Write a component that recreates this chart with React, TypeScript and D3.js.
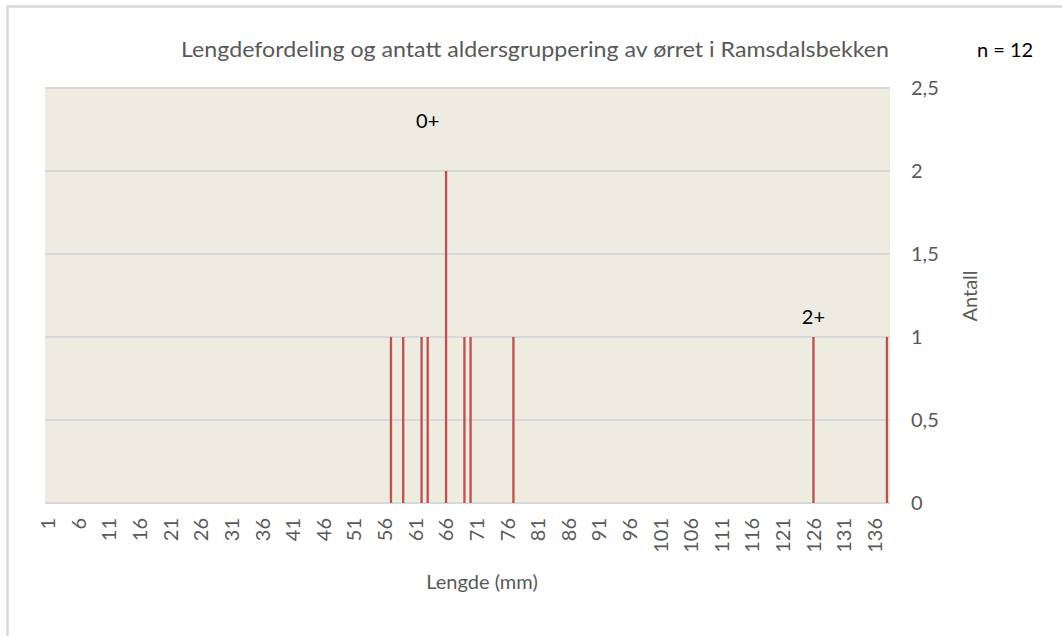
import React from "react";
import * as d3 from "d3";

// Categories: length in mm, 1..138
const lengths: number[] = d3.range(1, 139);
// Observed counts per length (mm -> count)
const fishLengths: number[] = [57, 59, 62, 63, 66, 69, 70, 77, 126, 138];
const fishCounts: number[] = [1, 1, 1, 1, 2, 1, 1, 1, 1, 1];
const yTicks: number[] = [0, 0.5, 1, 1.5, 2, 2.5];
const xTickLabels: number[] = d3.range(1, 139, 5);
const ageLabels = [
  { text: "0+", at: 63, y: 2.3 },
  { text: "2+", at: 126, y: 1.12 },
];

const W = 1062;
const H = 636;
const plot = { left: 45, right: 890, top: 88, bottom: 503 };
const FONT = "Lato, 'Open Sans', sans-serif";

export default function App() {
  const x = d3
    .scaleBand<number>()
    .domain(lengths)
    .range([plot.left, plot.right])
    .paddingInner(0.62)
    .paddingOuter(0.31);
  const xc = (v: number) => (x(v) as number) + x.bandwidth() / 2;
  const y = d3.scaleLinear().domain([0, 2.5]).range([plot.bottom, plot.top]);
  const fmt = (v: number) => String(v).replace(".", ",");

  return (
    <svg
      width={W}
      height={H}
      style={{ position: "absolute", left: 0, top: 0, background: "#fff" }}
      fontFamily={FONT}
    >
      <rect x={7.5} y={6.5} width={W + 20} height={H + 20} fill="#fff" stroke="#d9d9d9" strokeWidth={2.5} />
      <rect
        x={plot.left}
        y={plot.top}
        width={plot.right - plot.left}
        height={plot.bottom - plot.top}
        fill="#eeece1"
      />
      {yTicks.map((t) => (
        <line
          key={"g" + t}
          x1={plot.left}
          x2={plot.right}
          y1={y(t)}
          y2={y(t)}
          stroke="#d9d9d9"
          strokeWidth={2}
        />
      ))}
      {fishLengths.map((L, i) => (
        <rect
          key={"b" + L}
          x={x(L) as number}
          y={y(fishCounts[i])}
          width={x.bandwidth()}
          height={y(0) - y(fishCounts[i])}
          fill="#c0504d"
        />
      ))}
      {yTicks.map((t) => (
        <text key={"yt" + t} x={911} y={y(t)} dy="0.36em" fontSize={20} fill="#595959">
          {fmt(t)}
        </text>
      ))}
      {xTickLabels.map((t) => (
        <text
          key={"xt" + t}
          transform={`translate(${xc(t)},${518}) rotate(-90)`}
          textAnchor="end"
          dy="0.36em"
          fontSize={20}
          fill="#595959"
        >
          {t}
        </text>
      ))}
      <text x={535} y={57} textAnchor="middle" fontSize={20.5} fill="#595959" textLength={708} lengthAdjust="spacingAndGlyphs">
        Lengdefordeling og antatt aldersgruppering av ørret i Ramsdalsbekken
      </text>
      <text x={1005} y={57} textAnchor="middle" fontSize={20} fill="#000">
        n = 12
      </text>
      {ageLabels.map((a) => (
        <text key={a.text} x={xc(a.at)} y={y(a.y)} dy="0.36em" textAnchor="middle" fontSize={20} fill="#000">
          {a.text}
        </text>
      ))}
      <text
        transform={`translate(${977},${296}) rotate(-90)`}
        textAnchor="middle"
        fontSize={20}
        fill="#595959"
      >
        Antall
      </text>
      <text x={482} y={589} textAnchor="middle" fontSize={20} fill="#595959">
        Lengde (mm)
      </text>
    </svg>
  );
}
